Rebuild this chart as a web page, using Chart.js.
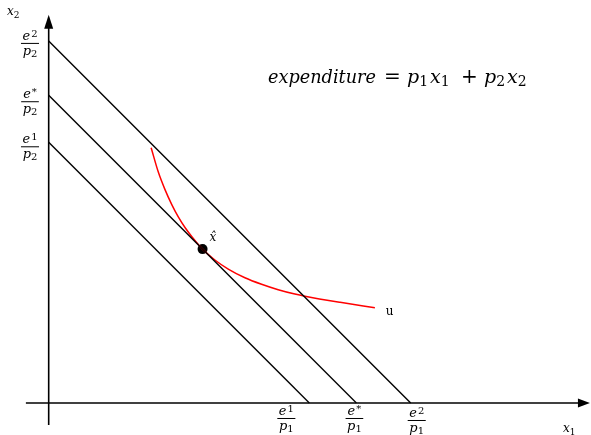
<!DOCTYPE html>
<html>
<head>
<meta charset="utf-8">
<script src="https://cdn.jsdelivr.net/npm/chart.js@4"></script>
<style>
  html, body { margin: 0; padding: 0; background: #fff; }
  #wrap { width: 591px; height: 435px; }
</style>
</head>
<body>
<div id="wrap"><canvas id="c" width="591" height="435"></canvas></div>
<script>
// budget levels e/p (p1 = p2, so the x and y intercepts are equal)
const budgetNames = ['1', '*', '2'];
const budgetLevels = [7.2, 8.5, 10.0];

// indifference curve u
const curveX = [2.83, 3.03, 3.21, 3.40, 3.58, 3.77, 3.95, 4.25, 4.59, 4.96, 5.42, 5.88, 6.34, 6.80, 7.08, 8.05, 9.01];
const curveY = [7.05, 6.37, 5.90, 5.48, 5.14, 4.84, 4.60, 4.25, 3.95, 3.70, 3.46, 3.28, 3.13, 3.01, 2.95, 2.78, 2.63];

// optimal bundle x-hat
const optimum = { x: 4.25, y: 4.25 };

// axis extents
const xAxisRange = [-0.63, 14.95];
const yAxisRange = [-0.61, 10.72];

const SERIF = '"DejaVu Serif", "Liberation Serif", serif';

const budgetSets = budgetLevels.map(e => ({
  data: [{ x: 0, y: e }, { x: e, y: 0 }],
  showLine: true, borderColor: '#000', borderWidth: 1.4, pointRadius: 0
}));

const axisSets = [
  { data: [{ x: xAxisRange[0], y: 0 }, { x: xAxisRange[1] - 0.2, y: 0 }] },
  { data: [{ x: 0, y: yAxisRange[0] }, { x: 0, y: yAxisRange[1] - 0.3 }] }
].map(d => Object.assign(d, { showLine: true, borderColor: '#000', borderWidth: 1.6, pointRadius: 0 }));

function drawFrac(ctx, cx, barY, sup, sub) {
  ctx.textAlign = 'left';
  ctx.textBaseline = 'alphabetic';
  const eFont = 'italic 13px ' + SERIF, supFont = '10px ' + SERIF;
  ctx.font = eFont; const ew = ctx.measureText('e').width;
  ctx.font = supFont; const sw = ctx.measureText(sup).width;
  ctx.font = eFont; const pw = ctx.measureText('p').width;
  ctx.font = supFont; const bw = ctx.measureText(sub).width;
  const numW = ew + sw + 1, denW = pw + bw;
  const w = Math.max(numW, denW) + 3;
  let x = cx - numW / 2;
  ctx.font = eFont; ctx.fillText('e', x, barY - 3);
  ctx.font = supFont; ctx.fillText(sup, x + ew + 1, barY - 6);
  x = cx - denW / 2;
  ctx.font = eFont; ctx.fillText('p', x, barY + 12);
  ctx.font = supFont; ctx.fillText(sub, x + pw, barY + 14);
  ctx.lineWidth = 1;
  ctx.beginPath();
  ctx.moveTo(cx - w / 2, barY + 0.5);
  ctx.lineTo(cx + w / 2, barY + 0.5);
  ctx.stroke();
}

function drawSubVar(ctx, x, y, v, s, size) {
  ctx.textAlign = 'left';
  ctx.textBaseline = 'alphabetic';
  ctx.font = 'italic ' + size + 'px ' + SERIF;
  ctx.fillText(v, x, y);
  const w = ctx.measureText(v).width;
  ctx.font = Math.round(size * 0.72) + 'px ' + SERIF;
  ctx.fillText(s, x + w, y + 3);
  return w + ctx.measureText(s).width;
}

const decor = {
  id: 'decor',
  afterDatasetsDraw(chart) {
    const ctx = chart.ctx, xs = chart.scales.x, ys = chart.scales.y;
    const ox = xs.getPixelForValue(0), oy = ys.getPixelForValue(0);
    ctx.save();
    ctx.fillStyle = '#000';
    ctx.strokeStyle = '#000';

    // arrow heads
    const xt = xs.getPixelForValue(xAxisRange[1]);
    ctx.beginPath();
    ctx.moveTo(xt, oy); ctx.lineTo(xt - 12, oy - 4.5); ctx.lineTo(xt - 12, oy + 4.5); ctx.closePath(); ctx.fill();
    const yt = ys.getPixelForValue(yAxisRange[1]);
    ctx.beginPath();
    ctx.moveTo(ox, yt); ctx.lineTo(ox - 4.5, yt + 14); ctx.lineTo(ox + 4.5, yt + 14); ctx.closePath(); ctx.fill();

    // axis names
    drawSubVar(ctx, 7, 15, 'x', '2', 12);
    drawSubVar(ctx, xt - 27, oy + 29, 'x', '1', 12);

    // intercept labels
    const xOff = [-23, -2, 6], xBar = [15, 15, 17];
    const yOff = [4, 6, 2];
    budgetLevels.forEach((e, i) => {
      drawFrac(ctx, xs.getPixelForValue(e) + xOff[i], oy + xBar[i], budgetNames[i], '1');
      drawFrac(ctx, 30, ys.getPixelForValue(e) + yOff[i], budgetNames[i], '2');
    });

    // x-hat and u
    const px = xs.getPixelForValue(optimum.x), py = ys.getPixelForValue(optimum.y);
    ctx.font = 'italic 12px ' + SERIF;
    ctx.textAlign = 'left';
    ctx.fillText('x\u0302', px + 7, py - 8);
    const last = curveX.length - 1;
    ctx.font = '12px ' + SERIF;
    ctx.fillText('u', xs.getPixelForValue(curveX[last]) + 11, ys.getPixelForValue(curveY[last]) + 7);

    // expenditure equation, sized so the word spans like the original
    ctx.font = 'italic 20px ' + SERIF;
    const fs = 20 * 108 / ctx.measureText('expenditure').width;
    const by = 83;
    ctx.font = 'italic ' + fs + 'px ' + SERIF;
    ctx.fillText('expenditure', 268, by);
    ctx.font = '20px ' + SERIF;
    ctx.fillText('=', 384, by);
    ctx.fillText('+', 461, by);
    let x = 407;
    x += drawSubVar(ctx, x, by, 'p', '1', 19) + 2;
    drawSubVar(ctx, x, by, 'x', '1', 19);
    x = 484;
    x += drawSubVar(ctx, x, by, 'p', '2', 19) + 2;
    drawSubVar(ctx, x, by, 'x', '2', 19);
    ctx.restore();
  }
};

new Chart(document.getElementById('c'), {
  type: 'scatter',
  data: {
    datasets: [
      ...axisSets,
      ...budgetSets,
      {
        data: curveX.map((x, i) => ({ x, y: curveY[i] })),
        showLine: true, borderColor: '#ff0000', borderWidth: 1.5, pointRadius: 0,
        cubicInterpolationMode: 'monotone'
      },
      {
        data: [optimum],
        pointRadius: 5, pointBackgroundColor: '#000', pointBorderColor: '#000', pointBorderWidth: 0
      }
    ]
  },
  options: {
    responsive: false,
    animation: false,
    layout: { padding: 0, autoPadding: false },
    plugins: { legend: { display: false }, tooltip: { enabled: false } },
    scales: {
      x: { type: 'linear', display: false, min: -1.345, max: 14.98 },
      y: { type: 'linear', display: false, min: -0.884, max: 11.13 }
    }
  },
  plugins: [decor]
});
</script>
</body>
</html>
